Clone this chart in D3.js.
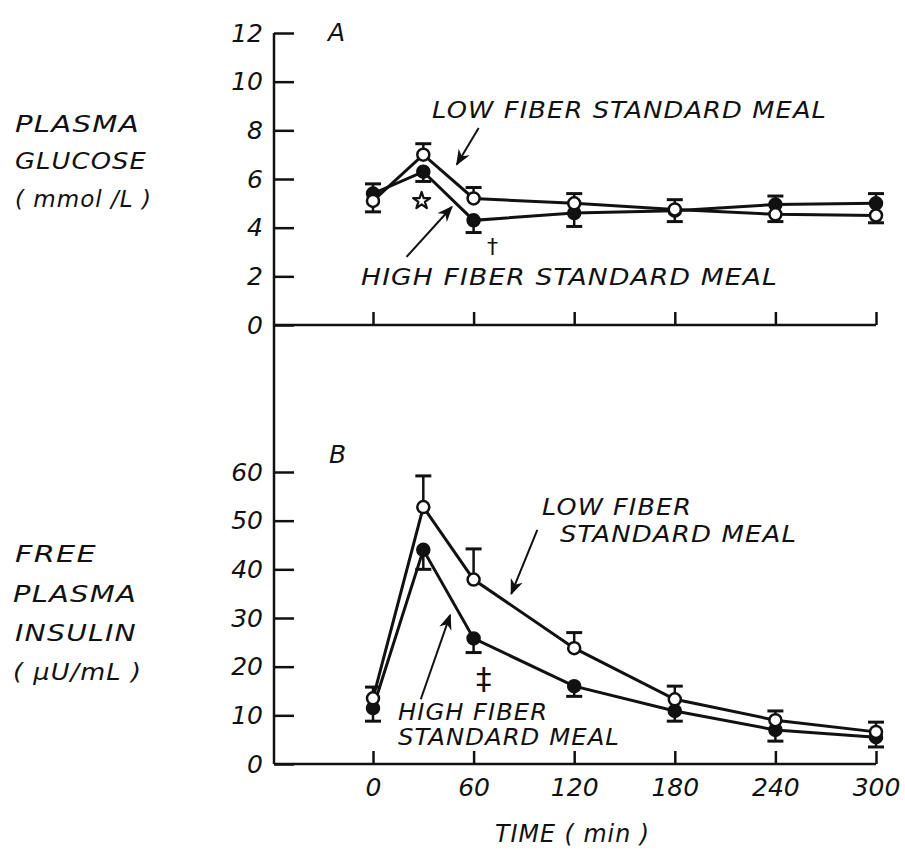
<!DOCTYPE html>
<html>
<head>
<meta charset="utf-8">
<script src="https://cdn.jsdelivr.net/npm/d3@7"></script>
<style>
  body { margin: 0; background: #fff; }
  svg text { font-family: "DejaVu Sans", sans-serif; font-style: italic; fill: #111; }
</style>
</head>
<body>
<div id="content"></div>
<script>
(function(d3) {

   // sampling times (min)
   var times = [0, 30, 60, 120, 180, 240, 300];
   var xTicks = [0, 60, 120, 180, 240, 300];

   // panel A: plasma glucose (mmol/L)
   var glucoseLow = [5.1, 7.0, 5.2, 5.0, 4.75, 4.55, 4.5];
   var glucoseLowErr = [0.45, 0.45, 0.45, 0.4, 0.4, 0.3, 0.3];
   var glucoseHigh = [5.4, 6.3, 4.3, 4.6, 4.7, 4.95, 5.0];
   var glucoseHighErr = [0.4, 0.4, 0.5, 0.55, 0.45, 0.35, 0.4];
   var glucoseTicks = [0, 2, 4, 6, 8, 10, 12];

   // panel B: free plasma insulin (uU/mL)
   var insulinLow = [13.5, 52.8, 37.9, 23.8, 13.3, 9.0, 6.6];
   var insulinLowErr = [2.3, 6.4, 6.3, 3.2, 2.7, 1.9, 2.0];
   var insulinHigh = [11.5, 44, 25.8, 16, 10.9, 7.0, 5.5];
   var insulinHighErr = [2.7, 4, 2.9, 2.1, 2.1, 2.3, 2.0];
   var insulinTicks = [0, 10, 20, 30, 40, 50, 60];

   var win_width = 905;
   var win_height = 850;
   var axis_x = 274;

   var svg = d3.select("#content")
            .append("svg")
            .attr("width", win_width)
            .attr("height", win_height);

   var x = d3.scaleLinear().domain([0, 300]).range([373, 876]);
   var yA = d3.scaleLinear().domain([0, 12]).range([325, 33]);
   var yB = d3.scaleLinear().domain([0, 60]).range([764, 472]);

   svg.append("defs").append("marker")
      .attr("id", "arrow")
      .attr("viewBox", "0 0 10 10")
      .attr("refX", 9).attr("refY", 5)
      .attr("markerWidth", 16).attr("markerHeight", 16)
      .attr("markerUnits", "userSpaceOnUse")
      .attr("orient", "auto")
      .append("path")
      .attr("d", "M0,1 L10,5 L0,9 L3,5 Z")
      .style("fill", "#111");

   // continuous left axis line through both panels
   svg.append("line")
      .attr("x1", axis_x).attr("x2", axis_x)
      .attr("y1", yA(12)).attr("y2", yB(0))
      .style("stroke", "#111").style("stroke-width", 2.5);

   function drawPanel(y, ticks, low, lowErr, high, highErr, showX) {
      var g = svg.append("g");

      var yAxis = d3.axisLeft(y).tickValues(ticks)
                    .tickSizeInner(-20).tickSizeOuter(0).tickPadding(11);
      var ga = g.append("g").attr("transform", "translate(" + axis_x + ",0)").call(yAxis);
      ga.select(".domain").remove();
      ga.selectAll("line").style("stroke", "#111").style("stroke-width", 2.5);
      ga.selectAll("text").style("font-size", "25px").style("font-family", null);

      var xAxis = d3.axisBottom(x).tickValues(xTicks)
                    .tickSizeInner(-13).tickSizeOuter(0).tickPadding(14);
      if (!showX) xAxis.tickFormat("");
      var gx = g.append("g").attr("transform", "translate(0," + y(0) + ")").call(xAxis);
      gx.select(".domain").remove();
      gx.selectAll("line").style("stroke", "#111").style("stroke-width", 2.5);
      gx.selectAll("text").style("font-size", "25px").style("font-family", null);

      g.append("line")
       .attr("x1", axis_x).attr("x2", x(300))
       .attr("y1", y(0)).attr("y2", y(0))
       .style("stroke", "#111").style("stroke-width", 2.5);

      var line = d3.line().x(function(d) { return x(d[0]); }).y(function(d) { return y(d[1]); });
      var lowPts = times.map(function(t, i) { return [t, low[i]]; });
      var highPts = times.map(function(t, i) { return [t, high[i]]; });

      // error bars: the upper series gets its bar upward, the lower one downward
      times.forEach(function(t, i) {
         var lowUp = low[i] >= high[i];
         [[low[i], lowErr[i], lowUp ? 1 : -1], [high[i], highErr[i], lowUp ? -1 : 1]].forEach(function(e) {
            var yEnd = y(e[0] + e[2] * e[1]);
            g.append("line")
             .attr("x1", x(t)).attr("x2", x(t))
             .attr("y1", y(e[0])).attr("y2", yEnd)
             .style("stroke", "#111").style("stroke-width", 2.5);
            g.append("line")
             .attr("x1", x(t) - 8).attr("x2", x(t) + 8)
             .attr("y1", yEnd).attr("y2", yEnd)
             .style("stroke", "#111").style("stroke-width", 3);
         });
      });

      g.append("path").datum(lowPts).attr("d", line)
       .style("fill", "none").style("stroke", "#111").style("stroke-width", 3);
      g.append("path").datum(highPts).attr("d", line)
       .style("fill", "none").style("stroke", "#111").style("stroke-width", 3);

      g.selectAll(".high").data(highPts).enter().append("circle")
       .attr("cx", function(d) { return x(d[0]); })
       .attr("cy", function(d) { return y(d[1]); })
       .attr("r", 6.5)
       .style("fill", "#111").style("stroke", "#111").style("stroke-width", 1.5);
      g.selectAll(".low").data(lowPts).enter().append("circle")
       .attr("cx", function(d) { return x(d[0]); })
       .attr("cy", function(d) { return y(d[1]); })
       .attr("r", 6)
       .style("fill", "#fff").style("stroke", "#111").style("stroke-width", 2.5);
      return g;
   }

   drawPanel(yA, glucoseTicks, glucoseLow, glucoseLowErr, glucoseHigh, glucoseHighErr, false);
   drawPanel(yB, insulinTicks, insulinLow, insulinLowErr, insulinHigh, insulinHighErr, true);

   function label(txt, px, py, len, size) {
      var t = svg.append("text").attr("x", px).attr("y", py)
         .style("font-size", (size || 23) + "px").text(txt);
      if (len) {
         t.style("letter-spacing", "1px")
          .attr("textLength", len).attr("lengthAdjust", "spacingAndGlyphs");
      }
      return t;
   }

   function arrow(y, t1, v1, t2, v2) {
      svg.append("line")
         .attr("x1", x(t1)).attr("y1", y(v1))
         .attr("x2", x(t2)).attr("y2", y(v2))
         .attr("marker-end", "url(#arrow)")
         .style("stroke", "#111").style("stroke-width", 2);
   }

   // left titles
   label("PLASMA", 15, 132, 125);
   label("GLUCOSE", 15, 169, 132);
   label("( mmol /L )", 15, 207, 137);
   label("FREE", 15, 562, 82);
   label("PLASMA", 13, 602, 124);
   label("INSULIN", 15, 641, 122);
   label("( \u03bcU/mL )", 13, 680, 129);

   // panel letters
   label("A", 328, 41, null, 25);
   label("B", 329, 463, null, 25);

   // panel A annotations
   label("LOW FIBER STANDARD MEAL", 432, 118, 395);
   label("HIGH FIBER STANDARD MEAL", 361, 285, 417);
   arrow(yA, 63, 8.1, 50, 6.6);
   arrow(yA, 20, 2.8, 47, 4.85);
   // significance marks
   svg.append("path")
      .attr("d", d3.symbol(d3.symbolStar, 90)())
      .attr("transform", "translate(" + x(29) + "," + yA(5.1) + ")")
      .style("fill", "#fff").style("stroke", "#111").style("stroke-width", 2.2)
      .style("stroke-linejoin", "round");
   label("\u2020", 487, 254, null, 22).style("font-style", "normal");

   // panel B annotations
   label("LOW FIBER", 542, 515, 150);
   label("STANDARD MEAL", 560, 542, 237);
   label("HIGH FIBER", 398, 720, 150);
   label("STANDARD MEAL", 398, 745, 222);
   arrow(yB, 98, 48.1, 82.5, 35.0);
   arrow(yB, 28.5, 13.3, 46, 30.6);
   label("\u2021", 476, 689, null, 31).style("font-style", "normal");

   // x axis title
   label("TIME ( min )", 495, 842, 155, 24);

})(window.d3);
</script>
</body>
</html>
